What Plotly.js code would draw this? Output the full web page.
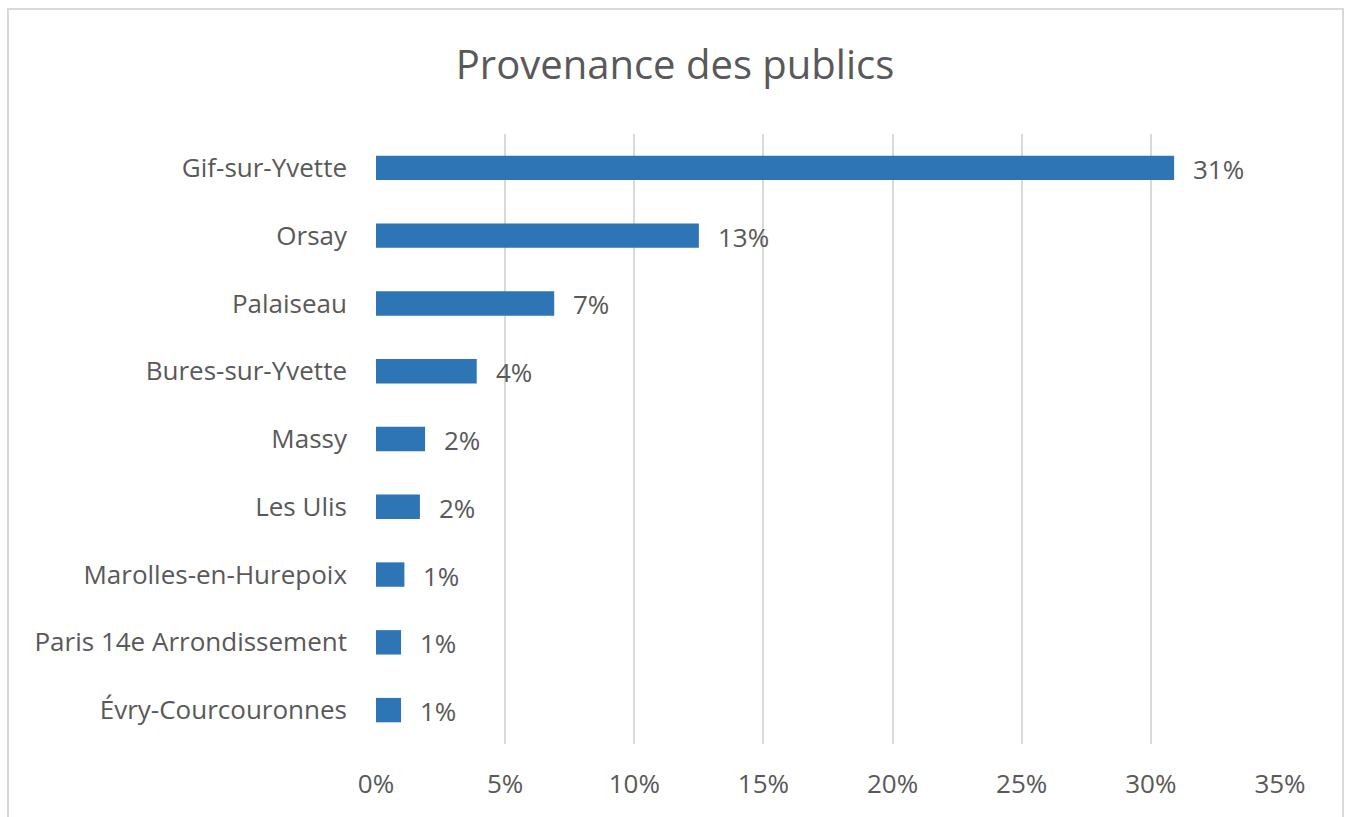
<!DOCTYPE html>
<html>
<head>
<meta charset="utf-8">
<script src="https://cdn.plot.ly/plotly-3.0.1.min.js"></script>
<style>
  html, body { margin: 0; padding: 0; background: #ffffff; overflow: hidden; }
  #chart { width: 1346px; height: 817px; position: absolute; left: 0; top: 0; }
  #frame { position: absolute; left: 7px; top: 8px; width: 1337px; height: 840px;
           box-sizing: border-box; border: 2px solid #d9d9d9; pointer-events: none; }
</style>
</head>
<body>
<div id="chart"></div>
<div id="frame"></div>
<script>
const categories = ["Gif-sur-Yvette", "Orsay", "Palaiseau", "Bures-sur-Yvette", "Massy",
                    "Les Ulis", "Marolles-en-Hurepoix", "Paris 14e Arrondissement", "Évry-Courcouronnes"];
const values = [0.309, 0.125, 0.069, 0.039, 0.019, 0.017, 0.011, 0.0097, 0.0097];
const valueLabels = ["31%", "13%", "7%", "4%", "2%", "2%", "1%", "1%", "1%"];
const xTickValues = [0, 0.05, 0.10, 0.15, 0.20, 0.25, 0.30, 0.35];
const xTickLabels = ["0%", "5%", "10%", "15%", "20%", "25%", "30%", "35%"];

const textColor = "#595959";
const fontFamily = "'Open Sans', 'Noto Sans', sans-serif";
const labelSize = 26;

const trace = {
  type: "bar",
  orientation: "h",
  x: values,
  y: categories,
  marker: { color: "#2E75B6" },
  hoverinfo: "skip"
};

const annotations = values.map((v, i) => ({
  x: v, y: categories[i], xref: "x", yref: "y",
  text: valueLabels[i], showarrow: false,
  xanchor: "left", yanchor: "middle", xshift: 17, yshift: -1,
  font: { family: fontFamily, size: labelSize, color: textColor }
}));

const layout = {
  width: 1346, height: 817,
  margin: { l: 376, r: 66, t: 134, b: 73, pad: 0 },
  paper_bgcolor: "rgba(0,0,0,0)",
  plot_bgcolor: "#ffffff",
  showlegend: false,
  bargap: 0.64,
  title: {
    text: "Provenance des publics",
    font: { family: fontFamily, size: 40, color: textColor },
    x: 675 / 1346, xanchor: "center", xref: "container",
    y: 1 - 65 / 817, yanchor: "middle", yref: "container"
  },
  xaxis: {
    range: [0, 0.35],
    tickvals: xTickValues,
    ticktext: xTickLabels,
    showgrid: true, gridcolor: "#d9d9d9", gridwidth: 2,
    zeroline: false, showline: false,
    ticks: "", ticklabelstandoff: 22,
    tickfont: { family: fontFamily, size: labelSize, color: textColor },
    fixedrange: true
  },
  yaxis: {
    type: "category",
    categoryorder: "array",
    categoryarray: categories,
    autorange: "reversed",
    showgrid: false, zeroline: false, showline: false,
    ticks: "", ticklabelstandoff: 28,
    tickfont: { family: fontFamily, size: labelSize, color: textColor },
    fixedrange: true
  },
  annotations: annotations
};

Plotly.newPlot("chart", [trace], layout, { displayModeBar: false, staticPlot: true });
</script>
</body>
</html>
